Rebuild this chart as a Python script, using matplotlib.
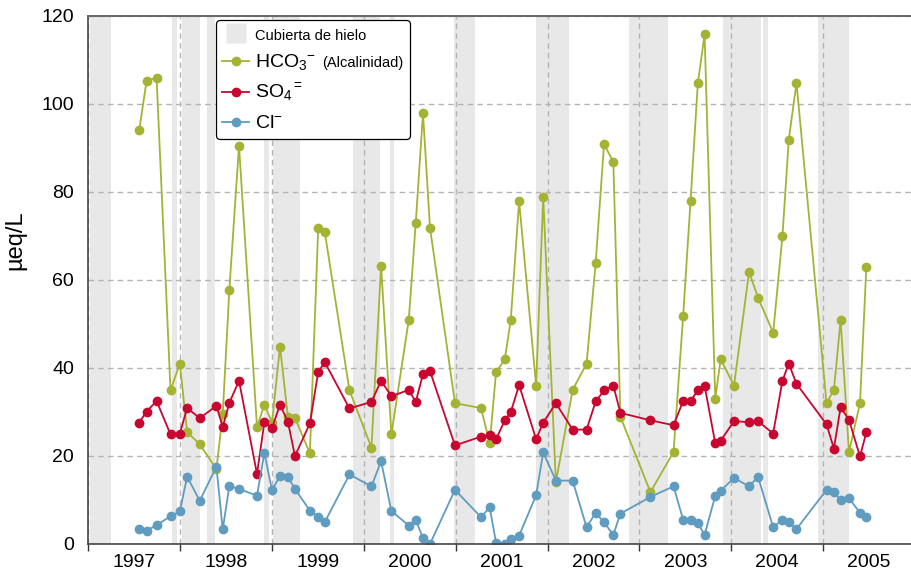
import matplotlib
matplotlib.use("Agg")
import matplotlib.pyplot as plt
from matplotlib.lines import Line2D
from matplotlib.offsetbox import TextArea

plt.rcParams['font.family'] = ['Liberation Sans', 'DejaVu Sans']
plt.rcParams['mathtext.fontset'] = 'custom'
plt.rcParams['mathtext.rm'] = 'Liberation Sans'
plt.rcParams['mathtext.it'] = 'Liberation Sans:italic'
plt.rcParams['mathtext.bf'] = 'Liberation Sans:bold'

# sampling dates (decimal years)
dates = [1997.557, 1997.637, 1997.746, 1997.898, 1997.999, 1998.079, 1998.216, 1998.397,
         1998.466, 1998.538, 1998.643, 1998.839, 1998.919, 1999.002, 1999.089, 1999.176,
         1999.252, 1999.414, 1999.505, 1999.577, 1999.845, 2000.084, 2000.189, 2000.301,
         2000.490, 2000.566, 2000.645, 2000.721, 2000.993, 2001.276, 2001.371, 2001.440,
         2001.535, 2001.600, 2001.691, 2001.876, 2001.953, 2002.091, 2002.273, 2002.425,
         2002.524, 2002.615, 2002.716, 2002.793, 2003.120, 2003.371, 2003.476, 2003.556,
         2003.636, 2003.709, 2003.825, 2003.884, 2004.029, 2004.193, 2004.291, 2004.455,
         2004.556, 2004.625, 2004.709, 2005.036, 2005.116, 2005.189, 2005.280, 2005.400,
         2005.469]

hco3 = [94.0, 105.2, 106.0, 34.9, 41.0, 25.4, 22.7, 17.0, 29.5, 57.8, 90.5, 26.6, 31.7,
        27.6, 44.8, 28.8, 28.7, 20.6, 71.9, 70.8, 34.9, 21.9, 63.2, 24.9, 50.9, 72.9, 97.9,
        71.9, 32.0, 30.9, 22.9, 39.0, 42.0, 50.9, 77.9, 36.0, 78.9, 14.0, 35.0, 41.0, 63.9,
        90.9, 86.8, 28.9, 11.8, 20.9, 51.9, 77.9, 104.8, 115.8, 33.0, 42.0, 36.0, 61.8,
        56.0, 48.0, 69.9, 91.9, 104.8, 32.0, 35.0, 50.9, 20.9, 32.0, 62.9]

so4 = [27.6, 30.1, 32.5, 24.9, 25.1, 30.9, 28.6, 31.4, 26.6, 32.1, 37.1, 15.9, 27.7, 26.3,
       31.7, 27.7, 20.0, 27.4, 39.1, 41.3, 30.8, 32.3, 37.1, 33.6, 35.0, 32.3, 38.6, 39.3,
       22.4, 24.4, 24.8, 23.8, 28.1, 30.0, 36.1, 23.8, 27.6, 32.0, 26.0, 26.0, 32.4, 34.9,
       36.0, 29.8, 28.1, 27.0, 32.5, 32.5, 34.9, 36.0, 22.9, 23.5, 27.9, 27.7, 27.9, 25.1,
       37.1, 41.0, 36.4, 27.2, 21.7, 31.1, 28.2, 19.9, 25.4]

cl = [3.3, 3.0, 4.3, 6.3, 7.4, 15.3, 9.8, 17.6, 3.3, 13.2, 12.5, 11.0, 20.7, 12.2, 15.5,
      15.2, 12.5, 7.6, 6.2, 5.0, 15.8, 13.1, 18.8, 7.5, 4.2, 5.5, 1.3, 0.0, 12.3, 6.1, 8.3,
      0.3, 0.0, 1.1, 1.9, 11.1, 20.8, 14.4, 14.4, 3.8, 7.1, 4.9, 2.1, 6.9, 10.7, 13.1, 5.5,
      5.5, 4.7, 2.1, 10.9, 12.1, 15.0, 13.1, 15.3, 3.8, 5.5, 4.9, 3.4, 12.3, 11.8, 9.9,
      10.4, 7.1, 6.1]

# ice cover periods
ice_start = [1997.018, 1997.909, 1998.028, 1998.300, 1998.919, 1999.016, 1999.885,
             2000.283, 2000.982, 2001.879, 2002.887, 2003.913, 2004.349, 2004.940]
ice_end = [1997.246, 1997.970, 1998.224, 1998.386, 1998.973, 1999.309, 2000.178,
           2000.330, 2001.211, 2002.235, 2003.312, 2004.327, 2004.396, 2005.280]

years = [1997, 1998, 1999, 2000, 2001, 2002, 2003, 2004, 2005]

green = '#a5b335'
red = '#c8062f'
blue = '#5f9cc0'
ice = '#e8e8e8'

fig = plt.figure(figsize=(9.11, 5.77), dpi=100)
ax = fig.add_axes([0.0966, 0.0572, 0.9034, 0.9151])

for s, e in zip(ice_start, ice_end):
    ax.axvspan(s, e, color=ice, lw=0, zorder=0)

kw = dict(marker='o', markersize=6, linewidth=1.3)
ax.plot(dates, hco3, color=green, **kw)
ax.plot(dates, so4, color=red, **kw)
ax.plot(dates, cl, color=blue, **kw)

ax.set_xlim(1997.0, 2005.955)
ax.set_ylim(0, 120)
ax.set_yticks(range(0, 121, 20))

ax.set_xticks(years)
ax.set_xticklabels([])
ax.set_xticks([y + 0.5 for y in years], minor=True)
ax.set_xticklabels([str(y) for y in years], minor=True)
ax.tick_params(axis='x', which='major', length=5, width=1, color='#333333', direction='out')
ax.tick_params(axis='x', which='minor', length=0, pad=7, labelsize=14)
ax.tick_params(axis='y', length=0, pad=10, labelsize=14)

ax.grid(True, which='major', linestyle=(0, (4, 3)), color='#b4b4b4', linewidth=1)

for side in ['left', 'bottom']:
    ax.spines[side].set_color('#444444')
    ax.spines[side].set_linewidth(1.2)
ax.spines['top'].set_color('#666666')
ax.spines['top'].set_linewidth(1.4)
ax.spines['right'].set_visible(False)

fig.text(15 / 911, 1 - 240 / 577, '\u00b5eq/L', fontsize=17, rotation=90,
         ha='center', va='center')

handles = [
    Line2D([], [], marker='s', linestyle='none', markersize=15, markerfacecolor=ice, markeredgecolor='none'),
    Line2D([], [], color=green, marker='o', markersize=6, linewidth=1.3),
    Line2D([], [], color=red, marker='o', markersize=6, linewidth=1.3),
    Line2D([], [], color=blue, marker='o', markersize=6, linewidth=1.3),
]
labels = ['Cubierta de hielo', 'HCO$_3$$^{-}$', 'SO$_4$$^{=}$', 'Cl$^{-}$']
leg = ax.legend(handles, labels, loc='upper left', bbox_to_anchor=(0.1555, 0.992),
                borderaxespad=0, fontsize=14, handlelength=1.4, handletextpad=0.3,
                labelspacing=0.48, borderpad=0.32, frameon=True, fancybox=True,
                framealpha=1, edgecolor='black')
leg.get_frame().set_linewidth(0.9)
leg.get_texts()[0].set_fontsize(10.5)

# smaller "(Alcalinidad)" after the HCO3 label
hco_text = leg.get_texts()[1]
for col in leg._legend_handle_box.get_children():
    for row in col.get_children():
        kids = row.get_children()
        if len(kids) == 2 and isinstance(kids[1], TextArea) and kids[1]._text is hco_text:
            extra = TextArea('(Alcalinidad)', textprops=dict(size=10.5))
            extra.set_figure(fig)
            kids.append(extra)

fig.savefig('out.png', dpi=100)
